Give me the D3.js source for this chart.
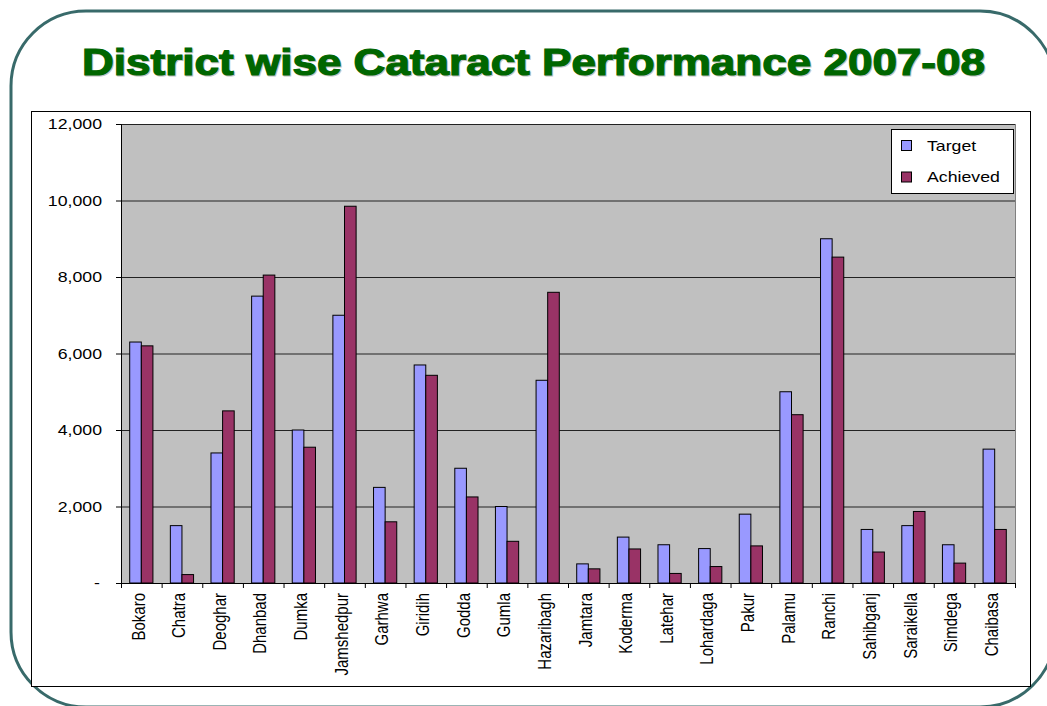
<!DOCTYPE html>
<html>
<head>
<meta charset="utf-8">
<script src="https://cdn.jsdelivr.net/npm/d3@7"></script>
<style>
  body { margin: 0; background: #fff; }
  text { font-family: "Liberation Sans", Arial, sans-serif; }
</style>
</head>
<body>
<div id="chart"></div>
<script>
// data
var districts = ["Bokaro", "Chatra", "Deoghar", "Dhanbad", "Dumka", "Jamshedpur", "Garhwa",
  "Giridih", "Godda", "Gumla", "Hazaribagh", "Jamtara", "Koderma", "Latehar", "Lohardaga",
  "Pakur", "Palamu", "Ranchi", "Sahibganj", "Saraikella", "Simdega", "Chaibasa"];
var target = [6300, 1500, 3400, 7500, 4000, 7000, 2500, 5700, 3000, 2000, 5300,
  500, 1200, 1000, 900, 1800, 5000, 9000, 1400, 1500, 1000, 3500];
var achieved = [6200, 220, 4500, 8050, 3550, 9850, 1600, 5430, 2250, 1090, 7600,
  370, 890, 250, 430, 970, 4400, 8520, 810, 1870, 520, 1400];
var seriesNames = ["Target", "Achieved"];
var seriesColors = ["#9999ff", "#993366"];
var yTicks = [0, 2000, 4000, 6000, 8000, 10000, 12000];
var titleText = "District wise Cataract Performance 2007-08";

var W = 1047, H = 706;
var margin = {top: 124, right: 32, bottom: 123, left: 121};
var width = W - margin.left - margin.right,
    height = H - margin.top - margin.bottom;
var stretchK = 1.18; // the slide text is a bit wider than normal

function stretch(sel, k) {
  sel.each(function() {
    var l = this.getComputedTextLength();
    d3.select(this).attr("textLength", l * k).attr("lengthAdjust", "spacingAndGlyphs");
  });
}

var svg = d3.select("#chart").append("svg")
    .attr("width", W)
    .attr("height", H);

// slide frame
svg.append("rect")
    .attr("x", 11).attr("y", 11)
    .attr("width", 1044).attr("height", 696)
    .attr("rx", 75).attr("ry", 75)
    .attr("fill", "none")
    .attr("stroke", "#386a6a")
    .attr("stroke-width", 3);

// title with a faint shadow
svg.append("text")
    .attr("x", 534.5).attr("y", 76)
    .attr("text-anchor", "middle")
    .attr("font-size", 37).attr("font-weight", "bold")
    .attr("fill", "#c4c4c4")
    .attr("stroke", "#c4c4c4").attr("stroke-width", 1.2)
    .attr("textLength", 903).attr("lengthAdjust", "spacingAndGlyphs")
    .text(titleText);
svg.append("text")
    .attr("x", 533.5).attr("y", 75)
    .attr("text-anchor", "middle")
    .attr("font-size", 37).attr("font-weight", "bold")
    .attr("fill", "#006600")
    .attr("stroke", "#006600").attr("stroke-width", 1.2)
    .attr("textLength", 903).attr("lengthAdjust", "spacingAndGlyphs")
    .text(titleText);

// chart box
svg.append("rect")
    .attr("x", 31.5).attr("y", 111.5)
    .attr("width", 999).attr("height", 575)
    .attr("fill", "#fff")
    .attr("stroke", "#000");

var g = svg.append("g")
    .attr("transform", "translate(" + margin.left + "," + margin.top + ")");

// scales
var x0 = d3.scaleBand().domain(districts).range([0, width])
    .paddingInner(1.5 / 3.5).paddingOuter(0.75 / 3.5);
var x1 = d3.scaleBand().domain(seriesNames).range([0, x0.bandwidth()]);
var xi = d3.scaleLinear().domain([0, districts.length]).range([0, width]);
var y = d3.scaleLinear().domain([0, 12000]).range([height, 0]);

// plot area
g.append("rect")
    .attr("x", 0.5).attr("y", 0.5)
    .attr("width", width).attr("height", height)
    .attr("fill", "#c0c0c0")
    .attr("stroke", "#808080");

// gridlines
g.append("g")
    .attr("class", "grid")
    .call(d3.axisLeft(y).tickValues(yTicks.slice(1)).tickSize(-width).tickFormat(""))
    .call(function(s) { s.select(".domain").remove(); })
    .selectAll("line")
    .attr("stroke", "#222");

// bars
var rows = districts.map(function(d, i) {
  return {name: d, values: [target[i], achieved[i]]};
});
g.selectAll(".grp")
    .data(rows)
  .enter().append("g")
    .attr("class", "grp")
    .attr("transform", function(d) { return "translate(" + x0(d.name) + ",0)"; })
  .selectAll("rect")
    .data(function(d) { return d.values.map(function(v, j) { return {s: seriesNames[j], v: v, c: seriesColors[j]}; }); })
  .enter().append("rect")
    .attr("x", function(d) { return x1(d.s); })
    .attr("width", x1.bandwidth())
    .attr("y", function(d) { return y(d.v); })
    .attr("height", function(d) { return height - y(d.v); })
    .attr("fill", function(d) { return d.c; })
    .attr("stroke", "#000")
    .attr("stroke-width", 1);

// y axis
var yAxis = g.append("g")
    .call(d3.axisLeft(y).tickValues(yTicks).tickSize(5).tickPadding(14)
      .tickFormat(function(d) { return d === 0 ? "-" : d3.format(",")(d); }));
yAxis.selectAll("text")
    .attr("font-size", 15)
    .attr("font-family", null)
    .attr("fill", "#000")
    .attr("dx", function(d) { return d === 0 ? -2 : 0; })
    .call(stretch, stretchK);
yAxis.selectAll("line, path").attr("stroke", "#000");

// x axis: tick marks between categories
var xTicks = g.append("g")
    .attr("transform", "translate(0," + height + ")")
    .call(d3.axisBottom(xi).tickValues(d3.range(districts.length + 1)).tickSize(5).tickFormat(""));
xTicks.selectAll("line, path").attr("stroke", "#000");

// x labels
var xLabels = g.append("g")
    .attr("transform", "translate(0," + height + ")")
    .call(d3.axisBottom(x0).tickSize(0));
xLabels.select(".domain").remove();
xLabels.selectAll("text")
    .attr("font-size", 15)
    .attr("font-family", null)
    .attr("fill", "#000")
    .attr("x", 0).attr("y", 0).attr("dy", "0.35em")
    .attr("text-anchor", "end")
    .attr("transform", "translate(-3,10) rotate(-90) scale(1," + stretchK + ")");

// legend
var legend = svg.append("g")
    .attr("transform", "translate(891,129)");
legend.append("rect")
    .attr("x", 0.5).attr("y", 0.5)
    .attr("width", 122).attr("height", 64)
    .attr("fill", "#fff")
    .attr("stroke", "#000");
var items = legend.selectAll(".item")
    .data(seriesNames)
  .enter().append("g")
    .attr("class", "item")
    .attr("transform", function(d, i) { return "translate(0," + (16 + i * 31.5) + ")"; });
items.append("rect")
    .attr("x", 10.5).attr("y", -4.5)
    .attr("width", 10).attr("height", 10)
    .attr("fill", function(d, i) { return seriesColors[i]; })
    .attr("stroke", "#000");
items.append("text")
    .attr("x", 36).attr("y", 5.5)
    .attr("font-size", 15)
    .text(function(d) { return d; })
    .call(stretch, stretchK);
</script>
</body>
</html>
